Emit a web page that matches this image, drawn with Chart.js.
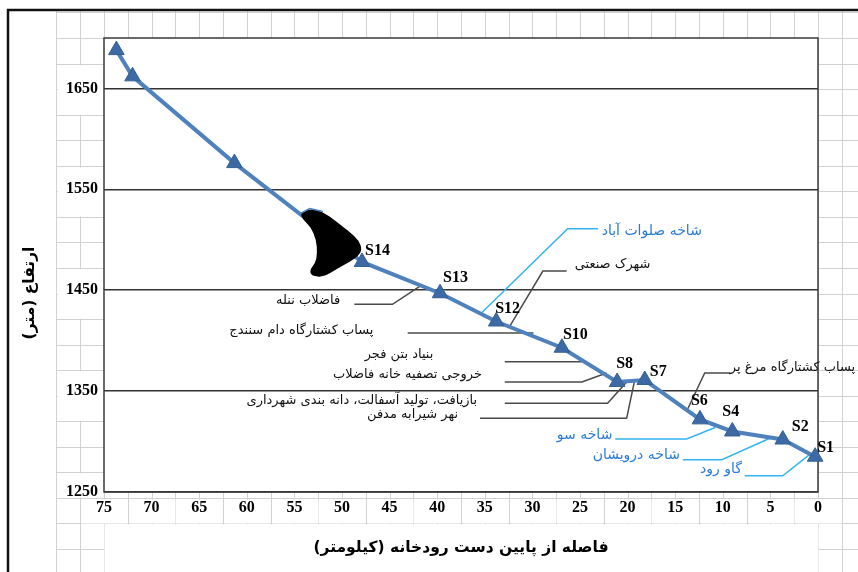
<!DOCTYPE html>
<html>
<head>
<meta charset="utf-8">
<script src="https://cdn.jsdelivr.net/npm/chart.js"></script>
<style>
  html, body { margin: 0; padding: 0; background: #fff; }
</style>
</head>
<body>
<canvas id="profile" width="858" height="572"></canvas>
<script>
// river bed profile: distance from the downstream end (km) vs elevation (m)
const distanceKm = [73.7, 72.0, 61.3, 47.9, 39.7, 33.8, 26.9, 21.1, 18.2, 12.4, 9.0, 3.7, 0.3];
const elevationM = [1688, 1662, 1576, 1478, 1447, 1419, 1393, 1359, 1361, 1322, 1310, 1302, 1285];
const stationNames = ['', '', '', 'S14', 'S13', 'S12', 'S10', 'S8', 'S7', 'S6', 'S4', 'S2', 'S1'];

const xTickValues = [75, 70, 65, 60, 55, 50, 45, 40, 35, 30, 25, 20, 15, 10, 5, 0];
const yTickValues = [1250, 1350, 1450, 1550, 1650];

const xTitle = 'فاصله از پایین دست رودخانه (کیلومتر)';
const yTitle = 'ارتفاع (متر)';

// pollution sources entering the river
const sourceNames = [
  'فاضلاب ننله',
  'پساب کشتارگاه دام سنندج',
  'شهرک صنعتی',
  'بنیاد بتن فجر',
  'خروجی تصفیه خانه فاضلاب',
  'بازیافت، تولید آسفالت، دانه بندی شهرداری',
  'نهر شیرابه مدفن',
  'پساب کشتارگاه مرغ پر',
];
// tributaries
const branchNames = ['شاخه صلوات آباد', 'شاخه سو', 'شاخه درویشان', 'گاو رود'];

// where each note sits: [text right edge km, text m, leader path in km/m]
const sourceLayout = [
  [50.2, 1440, [[48.7, 1436], [44.7, 1436], [41.8, 1454]]],
  [46.7, 1410, [[43.1, 1407.5], [29.9, 1407.5]]],
  [17.6, 1475, [[26.4, 1469], [28.9, 1469], [32.4, 1414]]],
  [40.4, 1386, [[32.9, 1379], [24.5, 1379]]],
  [35.3, 1366, [[32.9, 1359], [24.8, 1359], [22.2, 1368]]],
  [35.8, 1341, [[32.9, 1338], [22.1, 1338], [20.1, 1359]]],
  [37.8, 1327, [[35.5, 1323], [20.1, 1323], [19.3, 1359]]],
  [-3.9, 1373, [[9.2, 1368], [11.9, 1368], [13.7, 1332]]],
];
const branchLayout = [
  [12.2, 1508, [[23.1, 1511], [26.3, 1511], [35.3, 1428]]],
  [21.6, 1306.5, [[21.3, 1302.5], [13.8, 1302.5], [10.8, 1314]]],
  [14.5, 1286, [[14.2, 1282], [10.1, 1282], [5.0, 1303.5]]],
  [8.0, 1272, [[7.7, 1266], [3.7, 1266], [0.9, 1287]]],
];
// station label nudges in px from the marker
const labelNudge = [
  null, null, null,
  [3, -11], [3, -15], [-1, -13], [1, -13], [-1, -18], [5, -8], [-9, -19], [-10, -20], [9, -13], [2, -9],
];
// dark patch drawn over the line above S14 (km, m)
const blobOutline = [
  [54.4, 1526], [53.4, 1531], [52.0, 1528], [50.6, 1518], [49.2, 1508], [48.2, 1499],
  [47.9, 1490], [48.3, 1484], [49.2, 1478], [50.4, 1472], [51.9, 1463], [53.2, 1464],
  [53.4, 1470], [52.8, 1477], [52.6, 1486], [52.7, 1500], [53.3, 1513], [54.1, 1520],
];

const ROW_H = 25.55;
const SERIF = "'Liberation Serif', 'Times New Roman', serif";
const ARABIC = "'DejaVu Sans', sans-serif";

const sheetBackdrop = {
  id: 'sheetBackdrop',
  beforeDraw(chart) {
    const { ctx, chartArea: a, width, height } = chart;
    const xs = chart.scales.x;
    const ys = chart.scales.y;
    const colW = (a.right - a.left) / 30;
    const sheetLeft = a.left - 2 * colW;
    const tickRowTop = a.top + 18 * ROW_H;
    ctx.save();
    ctx.fillStyle = '#fff';
    ctx.fillRect(0, 0, width, height);

    // spreadsheet cells around the chart
    ctx.strokeStyle = '#d2d2d2';
    ctx.lineWidth = 1;
    ctx.beginPath();
    for (let x = sheetLeft; x < width; x += colW) {
      ctx.moveTo(Math.round(x) + 0.5, 11);
      ctx.lineTo(Math.round(x) + 0.5, height);
    }
    for (let y = a.top - ROW_H; y < height; y += ROW_H) {
      ctx.moveTo(sheetLeft, Math.round(y) + 0.5);
      ctx.lineTo(width, Math.round(y) + 0.5);
    }
    ctx.stroke();

    // label boxes hide the cells behind them
    ctx.fillStyle = '#fff';
    yTickValues.forEach((v) => {
      const py = ys.getPixelForValue(v);
      const top = a.top + ROW_H * Math.round((py - a.top) / ROW_H - 1);
      const bottom = Math.min(top + 2 * ROW_H, tickRowTop);
      ctx.fillRect(sheetLeft + 1.5, Math.round(top) + 1.5, colW * 2 - 2, Math.round(bottom) - Math.round(top) - 2);
    });
    xTickValues.forEach((v) => {
      const px = xs.getPixelForValue(v);
      ctx.fillRect(Math.round(px - colW) + 1.5, Math.round(tickRowTop) + 1.5, Math.round(2 * colW) - 2, Math.round(ROW_H) - 2);
    });
    const titleTop = Math.round(tickRowTop + ROW_H) + 1.5;
    ctx.fillRect(a.left + 0.5, titleTop, a.right - a.left, height - titleTop);

    // chart frame
    ctx.strokeStyle = '#111';
    ctx.lineWidth = 2.5;
    ctx.beginPath();
    ctx.moveTo(8, height);
    ctx.lineTo(8, 10);
    ctx.lineTo(width, 10);
    ctx.stroke();

    // plot area
    ctx.fillStyle = '#fff';
    ctx.fillRect(a.left, a.top, a.right - a.left, a.bottom - a.top);

    // axis titles
    ctx.fillStyle = '#000';
    ctx.font = `bold 15.5px ${ARABIC}`;
    ctx.direction = 'rtl';
    ctx.textAlign = 'center';
    ctx.textBaseline = 'middle';
    ctx.fillText(xTitle, (a.left + a.right) / 2, 548);
    ctx.translate(30, 293);
    ctx.rotate(-Math.PI / 2);
    ctx.fillText(yTitle, 0, 0);
    ctx.restore();
  },
};

function tracePath(ctx, xs, ys, pts) {
  pts.forEach(([k, m], i) => {
    const px = xs.getPixelForValue(k);
    const py = ys.getPixelForValue(m);
    if (i === 0) ctx.moveTo(px, py);
    else ctx.lineTo(px, py);
  });
}

// closed smooth outline through the midpoints of the given points
function traceSmooth(ctx, xs, ys, pts) {
  const p = pts.map(([k, m]) => [xs.getPixelForValue(k), ys.getPixelForValue(m)]);
  const n = p.length;
  const mid = (a, b) => [(a[0] + b[0]) / 2, (a[1] + b[1]) / 2];
  const start = mid(p[n - 1], p[0]);
  ctx.moveTo(start[0], start[1]);
  for (let i = 0; i < n; i++) {
    const m = mid(p[i], p[(i + 1) % n]);
    ctx.quadraticCurveTo(p[i][0], p[i][1], m[0], m[1]);
  }
  ctx.closePath();
}

function drawNotes(ctx, xs, ys, names, layout, style) {
  names.forEach((text, i) => {
    const [tk, tm, path] = layout[i];
    ctx.strokeStyle = style.line;
    ctx.lineWidth = style.lineWidth;
    ctx.beginPath();
    tracePath(ctx, xs, ys, path);
    ctx.stroke();
    ctx.fillStyle = style.text;
    ctx.font = style.font;
    ctx.direction = 'rtl';
    ctx.textAlign = 'right';
    ctx.textBaseline = 'middle';
    ctx.fillText(text, xs.getPixelForValue(tk), ys.getPixelForValue(tm));
  });
}

const noteLayer = {
  id: 'noteLayer',
  beforeDatasetsDraw(chart) {
    const { ctx, chartArea: a } = chart;
    const xs = chart.scales.x;
    const ys = chart.scales.y;
    ctx.save();
    ctx.strokeStyle = '#3a3a3a';
    ctx.lineWidth = 1.5;
    ctx.strokeRect(a.left, a.top, a.right - a.left, a.bottom - a.top);
    drawNotes(ctx, xs, ys, sourceNames, sourceLayout, {
      line: '#4a4a4a', lineWidth: 1.5, text: '#111', font: `13px ${ARABIC}`,
    });
    drawNotes(ctx, xs, ys, branchNames, branchLayout, {
      line: '#33b4ee', lineWidth: 1.5, text: '#2a7bd8', font: `14px ${ARABIC}`,
    });
    ctx.restore();
  },
  afterDatasetsDraw(chart) {
    const { ctx } = chart;
    const xs = chart.scales.x;
    const ys = chart.scales.y;
    ctx.save();
    // dark patch
    ctx.fillStyle = '#000';
    ctx.beginPath();
    traceSmooth(ctx, xs, ys, blobOutline);
    ctx.fill();
    ctx.strokeStyle = '#4f81bd';
    ctx.lineWidth = 1.5;
    ctx.beginPath();
    tracePath(ctx, xs, ys, blobOutline.slice(0, 3));
    ctx.stroke();

    // station names
    const meta = chart.getDatasetMeta(0);
    ctx.fillStyle = '#000';
    ctx.font = `bold 16px ${SERIF}`;
    ctx.textAlign = 'left';
    ctx.textBaseline = 'middle';
    meta.data.forEach((pt, i) => {
      if (!stationNames[i]) return;
      const [dx, dy] = labelNudge[i];
      ctx.fillText(stationNames[i], pt.x + dx, pt.y + dy);
    });
    ctx.restore();
  },
};

new Chart(document.getElementById('profile'), {
  type: 'scatter',
  data: {
    datasets: [
      {
        data: distanceKm.map((d, i) => ({ x: d, y: elevationM[i] })),
        showLine: true,
        borderColor: '#4f81bd',
        borderWidth: 4,
        pointStyle: 'triangle',
        pointRadius: 9,
        pointBackgroundColor: '#3d6aa6',
        pointBorderColor: '#35608f',
        pointBorderWidth: 1,
        clip: false,
      },
    ],
  },
  options: {
    responsive: false,
    animation: false,
    devicePixelRatio: 1,
    layout: { padding: { left: 0, right: 40, top: 38, bottom: 0 } },
    plugins: { legend: { display: false }, tooltip: { enabled: false } },
    scales: {
      x: {
        type: 'linear',
        reverse: true,
        min: 0,
        max: 75,
        afterBuildTicks: (s) => { s.ticks = xTickValues.map((v) => ({ value: v })); },
        afterFit: (s) => { s.height = 80; },
        grid: { display: false, drawTicks: false },
        border: { display: false },
        ticks: {
          color: '#000',
          padding: 6,
          maxRotation: 0,
          autoSkip: false,
          callback: (v) => String(v),
          font: { family: SERIF, size: 16, weight: 'bold' },
        },
      },
      y: {
        type: 'linear',
        min: 1250,
        max: 1700,
        afterBuildTicks: (s) => { s.ticks = yTickValues.map((v) => ({ value: v })); },
        afterFit: (s) => { s.width = 104; },
        grid: { color: '#333', lineWidth: 1.5, drawTicks: false },
        border: { display: false },
        ticks: {
          color: '#000',
          padding: 6,
          callback: (v) => String(v),
          font: { family: SERIF, size: 16, weight: 'bold' },
        },
      },
    },
  },
  plugins: [sheetBackdrop, noteLayer],
});
</script>
</body>
</html>
